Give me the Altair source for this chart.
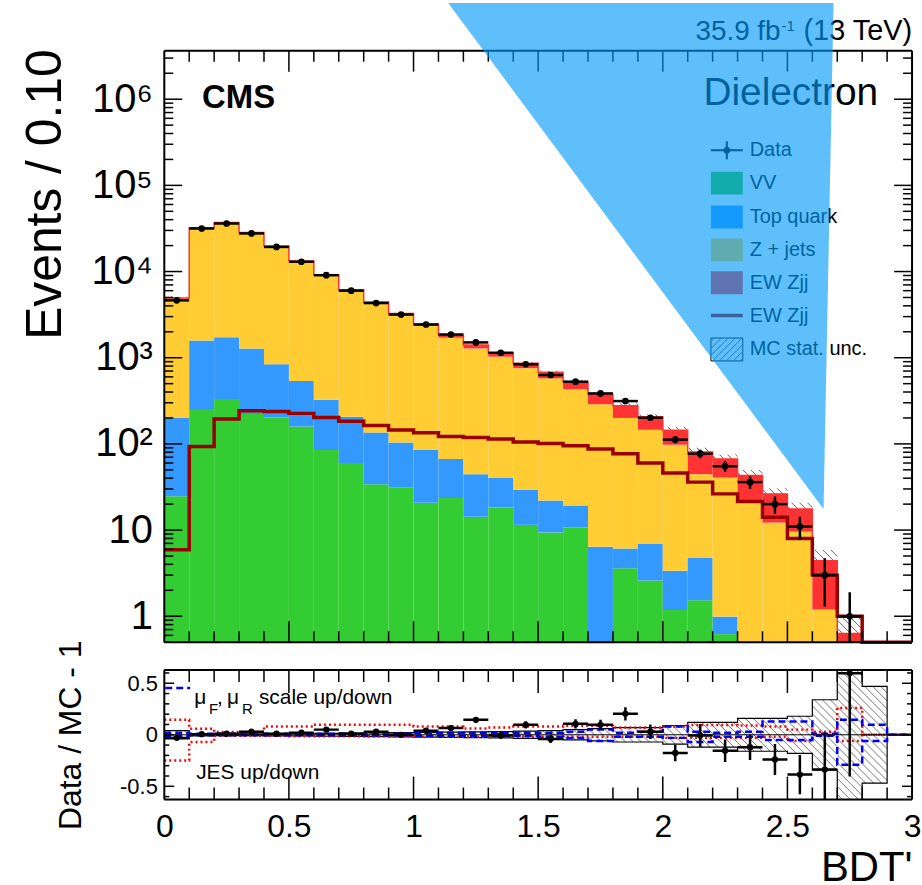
import math
import altair as alt
import pandas as pd

# ---------------------------------------------------------------- binning
N_BINS = 30
BIN_WIDTH = 0.1
BIN_LO = [round(i * BIN_WIDTH, 1) for i in range(N_BINS)]

# ---------------------------------------------------------------- observed data
DATA = [4630, 31600, 36100, 27700, 19300, 13000, 9070, 6000, 4310, 3170,
        2430, 1860, 1505, 1142, 840, 630, 527, 385, 314, 201,
        112, 77, 55, 36, 20, 11, 3, 1, 0, 0]
DATA_ERR = [68, 178, 190, 166, 139, 114, 95, 77, 66, 56,
            49, 43, 39, 34, 29, 25, 23, 19.6, 17.7, 14.2,
            10.6, 8.8, 7.4, 6.0, 4.5, 3.3, 1.7, 0.9, 0, 0]

# ---------------------------------------------------------------- stacked simulation (bottom -> top)
VV = [24.7, 254, 331, 222, 203, 159, 85, 60, 34, 31,
      20.7, 23.6, 14.3, 18.3, 11.5, 9.4, 10.7, 0, 3.6, 2.6,
      1.18, 1.53, 0.62, 0, 0, 0, 0, 0, 0, 0]
TOP_QUARK = [175, 1334, 1402, 1061, 636, 379, 240, 147, 102, 73,
             64, 43, 30, 22, 18, 12.6, 8.6, 6.4, 2.5, 4.3,
             2.2, 3.2, 0.37, 0, 0, 0, 0, 0, 0, 0]
Z_JETS = [4714, 30519, 35172, 26874, 18723, 12536, 8642, 5760, 4131, 3001,
          2250, 1641, 1237, 987, 727, 554, 413, 282, 194, 139,
          94.6, 39.8, 39.7, 21.6, 12.2, 9.6, 1.2, 0, 0, 0]
EW_ZJJ = [5.9, 93, 195, 243, 238, 226, 203, 183, 163, 145,
          135, 122, 119, 114, 105, 101, 95, 87, 77, 60,
          46, 36, 26.3, 21.4, 14.1, 8.0, 3.2, 0.63, 0, 0]
# EW Zjj shown on its own as an outline histogram
EW_ZJJ_LINE = [5.9, 93, 195, 243, 238, 226, 203, 183, 163, 145,
               135, 122, 119, 114, 105, 101, 95, 87, 77, 60,
               46, 36, 26.3, 21.4, 14.1, 8.0, 3.0, 1.0, 0, 0]
# relative MC statistical uncertainty per bin
MC_REL_UNC = [0.04, 0.01, 0.008, 0.008, 0.01, 0.012, 0.014, 0.016, 0.018, 0.02,
              0.022, 0.025, 0.028, 0.03, 0.035, 0.04, 0.05, 0.06, 0.07, 0.07,
              0.09, 0.12, 0.12, 0.16, 0.16, 0.18, 0.34, 0.65, 0.47, 0]

# ---------------------------------------------------------------- ratio panel
RATIO = [-0.03, 0.006, 0.01, 0.03, 0.01, 0.02, 0.05, 0.01, 0.03, 0.0,
         0.04, 0.065, 0.145, -0.006, 0.097, -0.04, 0.106, 0.097, 0.203, 0.03,
         -0.177, -0.006, -0.155, -0.12, -0.24, -0.386, -0.338, 0.596, None, None]
RATIO_ERR = [0.015, 0.006, 0.006, 0.007, 0.008, 0.009, 0.011, 0.013, 0.015, 0.018,
             0.02, 0.023, 0.026, 0.03, 0.035, 0.04, 0.045, 0.05, 0.065, 0.07,
             0.08, 0.11, 0.11, 0.125, 0.15, 0.19, 0.36, 1.0, 0, 0]
JES_UP = [0.145, 0.058, 0.026, 0.026, 0.08, 0.08, 0.097, 0.097, 0.097, 0.097,
          0.08, 0.08, 0.06, 0.07, 0.08, 0.08, 0.087, 0.087, 0.07, 0.07,
          0.08, 0.095, 0.095, 0.09, 0.08, 0.05, 0.03, 0.26, 0.0, 0.0]
JES_DN = [-0.25, -0.07, -0.01, -0.01, -0.01, -0.015, -0.015, -0.015, -0.015, -0.015,
          -0.02, -0.02, -0.02, -0.02, -0.02, -0.02, -0.02, -0.02, -0.02, -0.02,
          -0.03, -0.03, -0.03, -0.03, -0.02, -0.06, 0.0, -0.06, 0.0, 0.0]
SCALE_UP = [0.02, 0.01, 0.01, 0.01, 0.01, 0.01, 0.01, 0.01, 0.01, 0.01,
            0.02, 0.02, 0.02, 0.02, 0.02, 0.02, 0.03, 0.05, 0.02, 0.03,
            0.08, 0.03, 0.02, 0.03, 0.13, 0.13, 0.01, 0.145, 0.097, 0.0]
SCALE_DN = [-0.01, -0.005, -0.005, -0.005, -0.005, -0.005, -0.005, -0.005, -0.005, -0.005,
            -0.01, -0.01, -0.01, -0.01, -0.01, -0.02, -0.03, -0.06, -0.02, -0.02,
            -0.03, -0.07, -0.02, -0.02, -0.05, -0.05, -0.01, -0.29, -0.06, 0.0]

# ---------------------------------------------------------------- labels
LOG_TICKS = [1, 10, 100, 1000, 10000, 100000, 1000000]
LOG_LABELS = ["1", "10", "10\u00b2", "10\u00b3", "10\u2074", "10\u2075", "10\u2076"]
X_TICKS = [0, 0.5, 1, 1.5, 2, 2.5, 3]
RATIO_TICKS = [-0.5, 0, 0.5]
RATIO_LABELS = ["-0.5", "0", "0.5"]
LEGEND = ["Data", "VV", "Top quark", "Z + jets", "EW Zjj", "EW Zjj", "MC stat. unc."]
COMPONENTS = ["VV", "Top quark", "Z + jets", "EW Zjj"]
COMP_COLORS = ["#33CC33", "#3399FF", "#FFCC33", "#FF3333"]

# ---------------------------------------------------------------- geometry
FONT = "Liberation Sans"
W = 751
H_MAIN = 594
H_RATIO = 130
Y_MIN, Y_MAX = 0.5, 3.65e6
R_MIN, R_MAX = -0.628, 0.628
PX_X = W / 3.0
PX_DEC = H_MAIN / math.log10(Y_MAX / Y_MIN)
PX_R = H_RATIO / (R_MAX - R_MIN)

xs = alt.Scale(domain=[0, 3], nice=False, zero=False)
ys = alt.Scale(type="log", domain=[Y_MIN, Y_MAX], nice=False)
rs = alt.Scale(domain=[R_MIN, R_MAX], nice=False, zero=False)

log_label_expr = " : ".join(
    f"datum.value < {t * 3.0} ? '{lab}'" for t, lab in zip(LOG_TICKS[:-1], LOG_LABELS[:-1])
) + f" : '{LOG_LABELS[-1]}'"
ratio_label_expr = " : ".join(
    f"datum.value < {t + 0.25} ? '{lab}'" for t, lab in zip(RATIO_TICKS[:-1], RATIO_LABELS[:-1])
) + f" : '{RATIO_LABELS[-1]}'"

main_y_axis = alt.Axis(
    title="Events / 0.10", values=LOG_TICKS, labelExpr=log_label_expr,
    ticks=False, tickSize=0, domain=False, grid=False,
    labelFont=FONT, labelFontSize=40, labelPadding=12, labelColor="black",
    titleFont=FONT, titleFontSize=50, titleFontWeight="normal", titleColor="black",
    titleX=-94, titleY=144, titleAlign="center", titleBaseline="bottom", titleAngle=-90,
)
ratio_y_axis = alt.Axis(
    title="Data / MC - 1", values=RATIO_TICKS, labelExpr=ratio_label_expr,
    ticks=False, tickSize=0, domain=False, grid=False,
    labelFont=FONT, labelFontSize=22, labelPadding=7, labelColor="black",
    titleFont=FONT, titleFontSize=32, titleFontWeight="normal", titleColor="black",
    titleX=-77, titleY=65, titleAlign="center", titleBaseline="bottom", titleAngle=-90,
)
# the bottom axis group starts at the lower edge of the panel
ratio_x_axis = alt.Axis(
    title="BDT'", values=X_TICKS, format="~g", labelFlush=False,
    ticks=False, tickSize=0, domain=False, grid=False,
    labelFont=FONT, labelFontSize=32, labelPadding=12, labelColor="black",
    titleFont=FONT, titleFontSize=42, titleFontWeight="normal", titleColor="black",
    titleX=W, titleY=81, titleAlign="right", titleBaseline="alphabetic", titleAngle=0,
)


def XM(field):
    return alt.X(field, type="quantitative", scale=xs, axis=None)


def YM(field):
    return alt.Y(field, type="quantitative", scale=ys, axis=main_y_axis)


def XR(field):
    return alt.X(field, type="quantitative", scale=xs, axis=ratio_x_axis)


def YR(field):
    return alt.Y(field, type="quantitative", scale=rs, axis=ratio_y_axis)


def one_row():
    return pd.DataFrame({"k": [0]})


def step_frame(values, floor=None):
    xs_ = BIN_LO + [3.0]
    vs = list(values) + [values[-1]]
    if floor is not None:
        vs = [max(v, floor) for v in vs]
    return pd.DataFrame({"x": xs_, "y": vs})


def hatch_rows(lows, highs, to_px, from_px, v_lo, v_hi, spacing=8.0):
    """Diagonal hatch segments inside each bin's [low, high] box (45 deg on screen)."""
    rows = []
    for i, (lo, hi) in enumerate(zip(lows, highs)):
        if lo is None or hi is None or hi <= lo:
            continue
        u0, u1 = BIN_LO[i] * PX_X, (BIN_LO[i] + BIN_WIDTH) * PX_X
        v0, v1 = max(to_px(lo), v_lo), min(to_px(hi), v_hi)
        if v1 - v0 < 1.5:
            continue
        k = math.ceil((u0 + v0) / spacing)
        while k * spacing <= u1 + v1:
            c = k * spacing
            ua, ub = max(u0, c - v1), min(u1, c - v0)
            if ub - ua > 0.5:
                rows.append({"x": ua / PX_X, "y": from_px(c - ua),
                             "x2": ub / PX_X, "y2": from_px(c - ub)})
            k += 1
    return pd.DataFrame(rows, columns=["x", "y", "x2", "y2"])


def text_layer(txt, x, y, size, align="left", baseline="alphabetic", weight="normal", color="black"):
    return alt.Chart(one_row()).mark_text(
        text=txt, font=FONT, fontSize=size, align=align, baseline=baseline,
        fontWeight=weight, color=color,
    ).encode(x=alt.value(x), y=alt.value(y))


def rule_px(x, y, x2, y2, color="black", width=2.0, dash=None):
    kw = dict(color=color, strokeWidth=width)
    if dash:
        kw["strokeDash"] = dash
    return alt.Chart(one_row()).mark_rule(**kw).encode(
        x=alt.value(x), y=alt.value(y), x2=alt.value(x2), y2=alt.value(y2))


# ================================================================ main panel
stack_rows = []
totals = []
for i in range(N_BINS):
    cum = 0.0
    for name, arr in zip(COMPONENTS, [VV, TOP_QUARK, Z_JETS, EW_ZJJ]):
        v = arr[i]
        lo, hi = cum, cum + v
        cum = hi
        if v > 0 and hi > Y_MIN:
            stack_rows.append({"x": BIN_LO[i], "x2": BIN_LO[i] + BIN_WIDTH,
                               "lo": max(lo, Y_MIN), "hi": hi, "comp": name})
    totals.append(cum)
stack_df = pd.DataFrame(stack_rows)

stack = alt.Chart(stack_df).mark_rect().encode(
    x=XM("x"), x2="x2", y=YM("lo"), y2="hi",
    color=alt.Color("comp:N", scale=alt.Scale(domain=COMPONENTS, range=COMP_COLORS), legend=None),
)

total_line = alt.Chart(step_frame(totals, floor=Y_MIN)).mark_line(
    interpolate="step-after", color="#FF3333", strokeWidth=1.5, clip=True
).encode(x=XM("x"), y=YM("y"))

main_hatch_df = hatch_rows(
    [t * (1 - r) if t > 0 else None for t, r in zip(totals, MC_REL_UNC)],
    [t * (1 + r) if t > 0 else None for t, r in zip(totals, MC_REL_UNC)],
    lambda v: math.log10(max(v, 1e-9)) * PX_DEC,
    lambda p: 10 ** (p / PX_DEC),
    math.log10(Y_MIN) * PX_DEC, math.log10(Y_MAX) * PX_DEC,
)
main_hatch = alt.Chart(main_hatch_df).mark_rule(color="#666666", strokeWidth=1).encode(
    x=XM("x"), y=YM("y"), x2="x2", y2="y2")

ew_line = alt.Chart(step_frame(EW_ZJJ_LINE, floor=Y_MIN)).mark_line(
    interpolate="step-after", color="#990000", strokeWidth=3.5
).encode(x=XM("x"), y=YM("y"))

data_df = pd.DataFrame({
    "x": [b + BIN_WIDTH / 2 for b in BIN_LO],
    "xl": BIN_LO, "xh": [b + BIN_WIDTH for b in BIN_LO],
    "n": DATA,
    "lo": [max(n - e, Y_MIN) for n, e in zip(DATA, DATA_ERR)],
    "hi": [n + e for n, e in zip(DATA, DATA_ERR)],
})
data_df = data_df[data_df["n"] > 0]
data_h = alt.Chart(data_df).mark_rule(color="black", strokeWidth=2.5).encode(
    x=XM("xl"), x2="xh", y=YM("n"))
data_v = alt.Chart(data_df).mark_rule(color="black", strokeWidth=2.5, clip=True).encode(
    x=XM("x"), y=YM("lo"), y2="hi")
data_pt = alt.Chart(data_df).mark_circle(color="black", size=45, opacity=1).encode(
    x=XM("x"), y=YM("n"))

# inward ticks on all four sides
minor_log = [m * 10 ** d for d in range(-1, 7) for m in range(2, 10)
             if Y_MIN <= m * 10 ** d <= Y_MAX]
log_major_df = pd.DataFrame({"v": LOG_TICKS})
log_minor_df = pd.DataFrame({"v": minor_log})
x_major_df = pd.DataFrame({"v": [t for t in X_TICKS if 0 < t < 3]})
x_minor_df = pd.DataFrame({"v": [round(0.1 * i, 1) for i in range(1, 30) if i % 5]})


def y_ticks(df, yenc, length):
    left = alt.Chart(df).mark_rule(color="black", strokeWidth=1.5).encode(
        y=yenc("v"), x=alt.value(0), x2=alt.value(length))
    right = alt.Chart(df).mark_rule(color="black", strokeWidth=1.5).encode(
        y=yenc("v"), x=alt.value(W), x2=alt.value(W - length))
    return [left, right]


def x_ticks(df, xenc, height, length):
    bottom = alt.Chart(df).mark_rule(color="black", strokeWidth=1.5).encode(
        x=xenc("v"), y=alt.value(height), y2=alt.value(height - length))
    top = alt.Chart(df).mark_rule(color="black", strokeWidth=1.5).encode(
        x=xenc("v"), y=alt.value(0), y2=alt.value(length))
    return [bottom, top]


main_ticks = (y_ticks(log_major_df, YM, 18) + y_ticks(log_minor_df, YM, 9)
              + x_ticks(x_major_df, XM, H_MAIN, 21) + x_ticks(x_minor_df, XM, H_MAIN, 11))


def frame(height):
    return [rule_px(0, 0, W, 0), rule_px(0, height, W, height),
            rule_px(0, 0, 0, height), rule_px(W, 0, W, height)]


# legend (top right of the main panel)
LX0, LX1, LTX = 549, 581, 588
ROW_Y = [100, 133, 167, 200, 233, 266, 300]
legend_layers = []
for label, ry in zip(LEGEND, ROW_Y):
    legend_layers.append(text_layer(label, LTX, ry, 20, baseline="middle"))
# data marker
legend_layers += [
    rule_px(LX0, ROW_Y[0], LX1, ROW_Y[0], width=2),
    rule_px((LX0 + LX1) / 2, ROW_Y[0] - 9, (LX0 + LX1) / 2, ROW_Y[0] + 9, width=2),
    alt.Chart(one_row()).mark_circle(color="black", size=45, opacity=1).encode(
        x=alt.value((LX0 + LX1) / 2), y=alt.value(ROW_Y[0])),
]
for comp, col, ry in zip(COMPONENTS, COMP_COLORS, ROW_Y[1:5]):
    legend_layers.append(alt.Chart(one_row()).mark_rect(color=col).encode(
        x=alt.value(LX0), x2=alt.value(LX1), y=alt.value(ry - 11.5), y2=alt.value(ry + 11.5)))
legend_layers.append(rule_px(LX0, ROW_Y[5], LX1, ROW_Y[5], color="#990000", width=3.5))
hb_top, hb_bot = ROW_Y[6] - 11.5, ROW_Y[6] + 11.5
legend_layers.append(alt.Chart(one_row()).mark_rect(
    fill="white", stroke="black", strokeWidth=1).encode(
    x=alt.value(LX0), x2=alt.value(LX1), y=alt.value(hb_top), y2=alt.value(hb_bot)))
for c in range(int(LX0 + hb_top) + 4, int(LX1 + hb_bot), 7):
    ua, ub = max(LX0, c - hb_bot), min(LX1, c - hb_top)
    if ub - ua > 1:
        legend_layers.append(rule_px(ua, c - ua, ub, c - ub, color="#555555", width=1))

main_texts = [
    text_layer("CMS", 38, 57, 33, weight="bold"),
    text_layer("Dielectron", 717, 54, 39, align="right"),
    text_layer("(13 TeV)", W, -11, 29, align="right"),
    text_layer("35.9 fb", 619, -11, 28, align="right"),
    text_layer("-1", 620, -20, 15),
]

# translucent wedge drawn over the upper right part of the figure
OVERLAY_Y = [1.31e7, 17.5]
OVERLAY_X_LEFT = [1.139, 2.645]
OVERLAY_X_RIGHT = [2.685, 2.645]
overlay = alt.Chart(pd.DataFrame({"y": OVERLAY_Y, "x": OVERLAY_X_LEFT, "x2": OVERLAY_X_RIGHT})).mark_area(
    orient="horizontal", color="#009AF8", opacity=0.63
).encode(y=YM("y"), x=XM("x"), x2="x2")

main = alt.layer(
    stack, main_hatch, total_line, ew_line, data_h, data_v, data_pt,
    *main_ticks, *frame(H_MAIN), *legend_layers, *main_texts, overlay,
).properties(width=W, height=H_MAIN)

# ================================================================ ratio panel
band_lo = [-r for r in MC_REL_UNC]
band_hi = list(MC_REL_UNC)
ratio_hatch_df = hatch_rows(
    band_lo, band_hi, lambda v: v * PX_R, lambda p: p / PX_R,
    R_MIN * PX_R, R_MAX * PX_R,
)
ratio_hatch = alt.Chart(ratio_hatch_df).mark_rule(color="#777777", strokeWidth=1).encode(
    x=XR("x"), y=YR("y"), x2="x2", y2="y2")
band_up = alt.Chart(step_frame(band_hi)).mark_line(
    interpolate="step-after", color="black", strokeWidth=1.2, clip=True).encode(x=XR("x"), y=YR("y"))
band_dn = alt.Chart(step_frame(band_lo)).mark_line(
    interpolate="step-after", color="black", strokeWidth=1.2, clip=True).encode(x=XR("x"), y=YR("y"))


def syst_line(values, color, dash):
    return alt.Chart(step_frame(values)).mark_line(
        interpolate="step-after", color=color, strokeWidth=2.5, strokeDash=dash, clip=True
    ).encode(x=XR("x"), y=YR("y"))


jes_up = syst_line(JES_UP, "#FF0000", [2, 3])
jes_dn = syst_line(JES_DN, "#FF0000", [2, 3])
scl_up = syst_line(SCALE_UP, "#0000FF", [7, 4])
scl_dn = syst_line(SCALE_DN, "#0000FF", [7, 4])

zero_line = alt.Chart(pd.DataFrame({"y": [0]})).mark_rule(color="black", strokeWidth=1).encode(
    y=YR("y"), x=alt.value(0), x2=alt.value(W))

ratio_df = pd.DataFrame({
    "x": [b + BIN_WIDTH / 2 for b in BIN_LO],
    "xl": BIN_LO, "xh": [b + BIN_WIDTH for b in BIN_LO],
    "r": RATIO,
    "lo": [None if r is None else max(r - e, R_MIN) for r, e in zip(RATIO, RATIO_ERR)],
    "hi": [None if r is None else min(r + e, R_MAX) for r, e in zip(RATIO, RATIO_ERR)],
}).dropna()
r_h = alt.Chart(ratio_df).mark_rule(color="black", strokeWidth=2.5, clip=True).encode(
    x=XR("xl"), x2="xh", y=YR("r"))
r_v = alt.Chart(ratio_df).mark_rule(color="black", strokeWidth=2.5, clip=True).encode(
    x=XR("x"), y=YR("lo"), y2="hi")
r_pt = alt.Chart(ratio_df).mark_circle(color="black", size=40, opacity=1, clip=True).encode(
    x=XR("x"), y=YR("r"))

r_major_df = pd.DataFrame({"v": RATIO_TICKS})
r_minor_df = pd.DataFrame({"v": [round(0.1 * i, 1) for i in range(-6, 7) if i % 5]})
ratio_ticks = (y_ticks(r_major_df, YR, 10) + y_ticks(r_minor_df, YR, 5)
               + x_ticks(x_major_df, XR, H_RATIO, 23) + x_ticks(x_minor_df, XR, H_RATIO, 12))

ratio_texts = [
    rule_px(1, 18, 26, 18, color="#0000FF", width=2.5, dash=[7, 4]),
    text_layer("\u03bc", 30, 34, 21),
    text_layer("F", 45, 44, 15),
    text_layer(",", 53, 34, 21),
    text_layer("\u03bc", 63, 34, 21),
    text_layer("R", 78, 44, 15),
    text_layer("scale up/down", 95, 34, 21),
    text_layer("JES up/down", 32, 109, 21),
]

ratio = alt.layer(
    ratio_hatch, band_up, band_dn, jes_up, jes_dn, scl_up, scl_dn, zero_line,
    r_h, r_v, r_pt, *ratio_texts, *ratio_ticks, *frame(H_RATIO),
).properties(width=W, height=H_RATIO)

chart = alt.vconcat(main, ratio, spacing=28, bounds="flush").properties(
    padding={"left": 20, "top": 0, "right": 0, "bottom": 16}, background="white"
).configure_view(stroke=None).configure(font=FONT)

chart.save("out.html", embed_options={"renderer": "svg", "actions": False})
